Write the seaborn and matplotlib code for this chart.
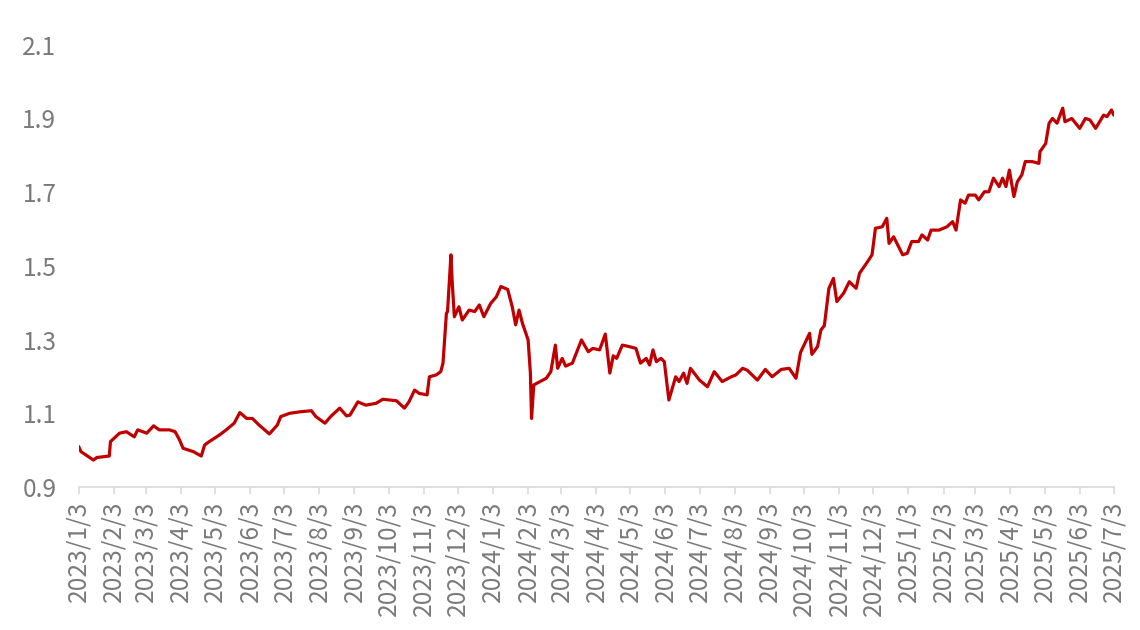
import pandas as pd
import matplotlib
matplotlib.use('Agg')
import matplotlib.pyplot as plt
import seaborn as sns

### DATA

dates = [
    '2023-01-03', '2023-01-05', '2023-01-16', '2023-01-19', '2023-01-30', '2023-01-31',
    '2023-02-08', '2023-02-14', '2023-02-21', '2023-02-24', '2023-03-04', '2023-03-10',
    '2023-03-15', '2023-03-24', '2023-03-29', '2023-04-02', '2023-04-05', '2023-04-14',
    '2023-04-21', '2023-04-24', '2023-04-28', '2023-05-07', '2023-05-13', '2023-05-20',
    '2023-05-25', '2023-05-31', '2023-06-05', '2023-06-11', '2023-06-20', '2023-06-27',
    '2023-06-30', '2023-07-08', '2023-07-17', '2023-07-27', '2023-07-31', '2023-08-08',
    '2023-08-13', '2023-08-21', '2023-08-27', '2023-08-30', '2023-09-06', '2023-09-13',
    '2023-09-22', '2023-09-28', '2023-10-10', '2023-10-17', '2023-10-21', '2023-10-26',
    '2023-10-30', '2023-11-06', '2023-11-08', '2023-11-14', '2023-11-18', '2023-11-20',
    '2023-11-23', '2023-11-24', '2023-11-27', '2023-11-28', '2023-11-30', '2023-12-04',
    '2023-12-07', '2023-12-13', '2023-12-18', '2023-12-22', '2023-12-26', '2024-01-01',
    '2024-01-06', '2024-01-10', '2024-01-16', '2024-01-20', '2024-01-23', '2024-01-26',
    '2024-01-29', '2024-02-03', '2024-02-05', '2024-02-06', '2024-02-08', '2024-02-19',
    '2024-02-23', '2024-02-27', '2024-02-29', '2024-03-04', '2024-03-07', '2024-03-13',
    '2024-03-21', '2024-03-27', '2024-03-31', '2024-04-06', '2024-04-11', '2024-04-15',
    '2024-04-18', '2024-04-21', '2024-04-26', '2024-05-02', '2024-05-08', '2024-05-12',
    '2024-05-17', '2024-05-20', '2024-05-23', '2024-05-26', '2024-05-30', '2024-06-02',
    '2024-06-06', '2024-06-09', '2024-06-12', '2024-06-15', '2024-06-19', '2024-06-22',
    '2024-06-25', '2024-07-03', '2024-07-10', '2024-07-16', '2024-07-23', '2024-07-31',
    '2024-08-04', '2024-08-10', '2024-08-14', '2024-08-23', '2024-08-30', '2024-09-05',
    '2024-09-13', '2024-09-20', '2024-09-26', '2024-09-30', '2024-10-08', '2024-10-10',
    '2024-10-15', '2024-10-18', '2024-10-21', '2024-10-25', '2024-10-29', '2024-11-01',
    '2024-11-07', '2024-11-12', '2024-11-18', '2024-11-21', '2024-11-28', '2024-12-02',
    '2024-12-05', '2024-12-11', '2024-12-15', '2024-12-17', '2024-12-21', '2024-12-29',
    '2025-01-02', '2025-01-06', '2025-01-12', '2025-01-15', '2025-01-20', '2025-01-23',
    '2025-01-30', '2025-02-06', '2025-02-11', '2025-02-14', '2025-02-18', '2025-02-22',
    '2025-02-25', '2025-03-03', '2025-03-06', '2025-03-11', '2025-03-15', '2025-03-19',
    '2025-03-24', '2025-03-27', '2025-03-30', '2025-04-02', '2025-04-06', '2025-04-09',
    '2025-04-13', '2025-04-16', '2025-04-22', '2025-04-28', '2025-04-29', '2025-05-04',
    '2025-05-07', '2025-05-10', '2025-05-14', '2025-05-19', '2025-05-21', '2025-05-27',
    '2025-06-03', '2025-06-08', '2025-06-12', '2025-06-17', '2025-06-24', '2025-06-27',
    '2025-07-01', '2025-07-03',
]

values = [
    1.010, 0.996, 0.973, 0.980, 0.984, 1.023,
    1.046, 1.050, 1.036, 1.055, 1.046, 1.066,
    1.055, 1.055, 1.050, 1.027, 1.005, 0.996,
    0.984, 1.014, 1.023, 1.041, 1.055, 1.073,
    1.102, 1.086, 1.086, 1.068, 1.044, 1.068,
    1.091, 1.100, 1.104, 1.107, 1.091, 1.073,
    1.091, 1.114, 1.093, 1.095, 1.131, 1.122,
    1.127, 1.138, 1.134, 1.114, 1.131, 1.163,
    1.154, 1.150, 1.199, 1.204, 1.213, 1.236,
    1.371, 1.376, 1.530, 1.462, 1.362, 1.389,
    1.353, 1.380, 1.376, 1.394, 1.362, 1.398,
    1.416, 1.444, 1.436, 1.389, 1.340, 1.380,
    1.344, 1.299, 1.209, 1.086, 1.177, 1.195,
    1.213, 1.285, 1.222, 1.249, 1.228, 1.236,
    1.299, 1.267, 1.276, 1.272, 1.315, 1.209,
    1.256, 1.249, 1.285, 1.281, 1.276, 1.236,
    1.249, 1.231, 1.272, 1.240, 1.249, 1.240,
    1.136, 1.168, 1.199, 1.186, 1.209, 1.181,
    1.222, 1.190, 1.172, 1.213, 1.186, 1.199,
    1.204, 1.222, 1.217, 1.190, 1.219, 1.199,
    1.219, 1.222, 1.195, 1.265, 1.317, 1.260,
    1.281, 1.326, 1.338, 1.439, 1.466, 1.403,
    1.426, 1.457, 1.439, 1.480, 1.511, 1.530,
    1.602, 1.606, 1.629, 1.561, 1.579, 1.530,
    1.534, 1.566, 1.566, 1.584, 1.570, 1.597,
    1.597, 1.606, 1.620, 1.597, 1.679, 1.670,
    1.692, 1.692, 1.679, 1.701, 1.701, 1.738,
    1.715, 1.738, 1.715, 1.760, 1.688, 1.728,
    1.747, 1.783, 1.783, 1.778, 1.810, 1.832,
    1.887, 1.900, 1.887, 1.928, 1.891, 1.900,
    1.873, 1.900, 1.896, 1.873, 1.909, 1.905,
    1.923, 1.909,
]

y_ticks = [0.9, 1.1, 1.3, 1.5, 1.7, 1.9, 2.1]
start_date = '2023-01-03'
end_date = '2025-07-03'

df = pd.DataFrame({'date': pd.to_datetime(dates), 'value': values})

# monthly tick dates, labelled like 2023/1/3
tick_dates = pd.date_range(start_date, end_date, freq=pd.DateOffset(months=1))
tick_labels = [f'{d.year}/{d.month}/{d.day}' for d in tick_dates]

### PLOT

sns.set_style('white')
plt.rcParams['font.family'] = ['Noto Sans CJK SC', 'DejaVu Sans']

fig = plt.figure(figsize=(11.4, 6.3), dpi=100)
ax = fig.add_axes([0.069, 0.227, 0.908, 0.702])

sns.lineplot(data=df, x='date', y='value', color='#C00000', linewidth=2.3, ax=ax)

ax.set_xlim(pd.Timestamp(start_date), pd.Timestamp(end_date))
ax.set_ylim(0.9, 2.1)
ax.set_yticks(y_ticks)
ax.set_yticklabels([f'{t:.1f}' for t in y_ticks])
ax.set_xticks(tick_dates)
ax.set_xticklabels(tick_labels, rotation=90)

ax.set_xlabel('')
ax.set_ylabel('')

# axis styling
for side in ['top', 'right', 'left']:
    ax.spines[side].set_visible(False)
ax.spines['bottom'].set_color('#D9D9D9')
ax.spines['bottom'].set_linewidth(1.2)

text_gray = '#7A7A7A'
ax.tick_params(axis='x', direction='out', length=5, width=1.2, color='#D9D9D9',
               labelsize=17.7, labelcolor=text_gray, pad=5, bottom=True)
ax.tick_params(axis='y', length=0, labelsize=17.7, labelcolor=text_gray, pad=16)
ax.grid(False)

plt.savefig('out.png', dpi=100)
